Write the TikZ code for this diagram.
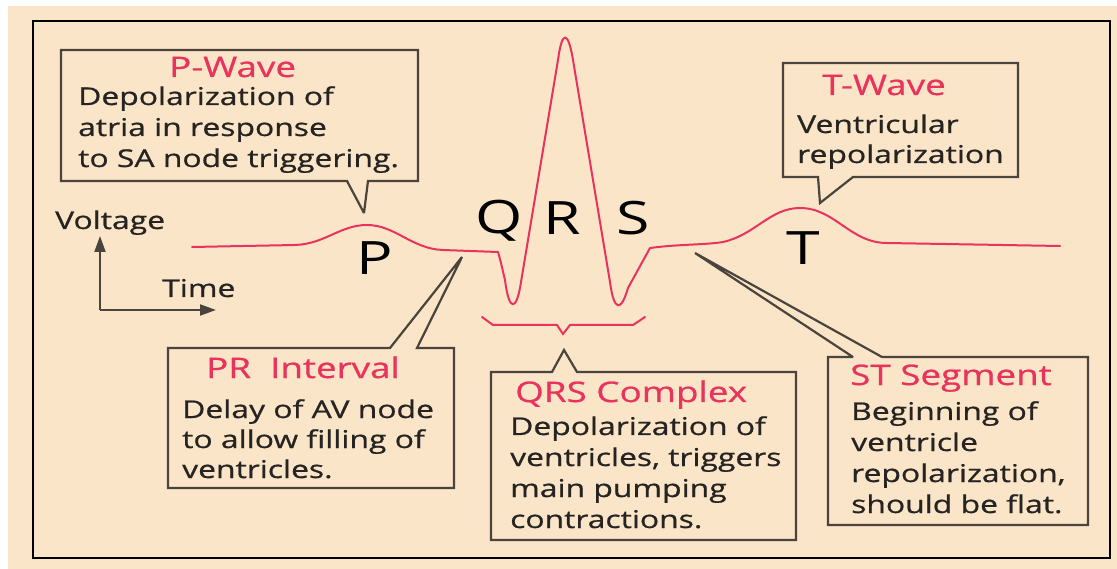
\documentclass[tikz,border=0pt]{standalone}
\usepackage{fontspec}
\setmainfont{Open Sans}[FakeStretch=1.30, FakeBold=0.8]
\newfontfamily\lettersfont{Open Sans}[FakeStretch=1.32]
\usetikzlibrary{arrows.meta}

\definecolor{paper}{HTML}{FAE5C8}
\definecolor{ecgred}{HTML}{E8335C}
\definecolor{inkbox}{HTML}{4A443C}
\definecolor{ink}{HTML}{262422}

\begin{document}
\begin{tikzpicture}[x=1pt,y=-1pt,
  txt/.style={inner sep=0pt, anchor=base west, text=ink, font=\fontsize{24.5}{30}\selectfont},
  ttl/.style={inner sep=0pt, anchor=base west, text=ecgred, font=\fontsize{28.3}{30}\selectfont},
  wavelbl/.style={inner sep=0pt, anchor=base west, text=black, font=\lettersfont\fontsize{46}{50}\selectfont},
  boxarea/.style={draw=none, inner sep=0pt, outer sep=0pt},
  boxline/.style={draw=inkbox, line width=2.2pt, line join=miter, miter limit=3},
  ecg/.style={draw=ecgred, line width=2pt, line join=round, line cap=round},
  axis/.style={draw=inkbox, line width=2pt, -{Triangle[length=16pt,width=11pt]}},
  frameline/.style={draw=black, line width=2pt}]

% page and panel
\useasboundingbox (0,0) rectangle (1117,569);
\fill[white] (0,0) rectangle (1117,569);
\fill[paper] (8,6) rectangle (1117,569);
\draw[frameline] (33,21) rectangle (1110,558);

% ECG trace: baseline and P wave
\draw[ecg] (192,247) -- (295,245)
  .. controls (325,244) and (340,225) .. (367,225)
  .. controls (395,225) and (412,249) .. (443,250)
  -- (498,252)
% QRS complex
  .. controls (501,262) and (503,272) .. (505,280)
  .. controls (509,312) and (516.5,312) .. (521,282)
  -- (558,60)
  .. controls (562,30) and (568,30) .. (573,60)
  -- (610,282)
  .. controls (614,312) and (621,312) .. (628,288)
  -- (650,248)
% ST segment and T wave
  .. controls (680,244) and (705,245) .. (723,242)
  .. controls (755,235) and (770,208) .. (800,208)
  .. controls (835,208) and (850,243) .. (887,243)
  -- (1060,246);

% wave letters
\node[wavelbl] (lP) at (356,275) {P};
\node[wavelbl] (lQ) at (475,234) {Q};
\node[wavelbl] (lR) at (543,235) {R};
\node[wavelbl] (lS) at (616,235) {S};
\node[wavelbl] (lT) at (786,265) {T};

% axes
\coordinate (origin) at (100,310);
\coordinate (vtip) at (100,236);
\coordinate (htip) at (216,310);
\draw[axis] (origin) -- (vtip);
\draw[axis] (origin) -- (htip);
\node[txt] (volt) at (55,229) {Voltage};
\node[txt] (time) at (162,297) {Time};

% QRS brace
\draw[ecg, line join=miter] (482,317) -- (493,325) -- (557,325) -- (563,334) -- (570,325) -- (633,325) -- (645,317);

% callout areas
\node[boxarea, minimum width=357pt, minimum height=131pt] (pbox) at (239.5,115.5) {};
\node[boxarea, minimum width=235pt, minimum height=114pt] (tbox) at (900.5,120) {};
\node[boxarea, minimum width=286pt, minimum height=140pt] (prbox) at (311,418) {};
\node[boxarea, minimum width=305pt, minimum height=168pt] (qbox) at (643.5,456) {};
\node[boxarea, minimum width=260pt, minimum height=168pt] (sbox) at (958,441) {};

% pointer tips
\coordinate (pA) at (347,181);  \coordinate (pTip) at (364,213); \coordinate (pB) at (368,181);
\coordinate (tA) at (818,177);  \coordinate (tTip) at (820,203); \coordinate (tB) at (853,177);
\coordinate (prA) at (390,348); \coordinate (prTip) at (462,257); \coordinate (prB) at (417,348);
\coordinate (qA) at (552,372);  \coordinate (qTip) at (564,350); \coordinate (qB) at (577,372);
\coordinate (sA) at (853,357);  \coordinate (sTip) at (695,253); \coordinate (sB) at (882,357);

% callout outlines
\draw[boxline] (pbox.south west) -- (pbox.north west) -- (pbox.north east) -- (pbox.south east)
  -- (pB) -- (pTip) -- (pA) -- cycle;
\draw[boxline] (tbox.south west) -- (tbox.north west) -- (tbox.north east) -- (tbox.south east)
  -- (tB) -- (tTip) -- (tA) -- cycle;
\draw[boxline] (prbox.north west) -- (prA) -- (prTip) -- (prB) -- (prbox.north east)
  -- (prbox.south east) -- (prbox.south west) -- cycle;
\draw[boxline] (qbox.north west) -- (qA) -- (qTip) -- (qB) -- (qbox.north east)
  -- (qbox.south east) -- (qbox.south west) -- cycle;
\draw[boxline] (sbox.north west) -- (sA) -- (sTip) -- (sB) -- (sbox.north east)
  -- (sbox.south east) -- (sbox.south west) -- cycle;

% P-wave text
\node[ttl] (pT) at (169,77) {P-Wave};
\node[txt] (p1) at (78,105) {Depolarization of};
\node[txt] (p2) at (78,136) {atria in response};
\node[txt] (p3) at (78,167) {to SA node triggering.};

% T-wave text
\node[ttl] (tT) at (822,95) {T-Wave};
\node[txt] (t1) at (797,133) {Ventricular};
\node[txt] (t2) at (797,163) {repolarization};

% PR interval text
\node[ttl] (prT) at (206,378) {PR\ \ Interval};
\node[txt] (pr1) at (182,418) {Delay of AV node};
\node[txt] (pr2) at (182,448) {to allow filling of};
\node[txt] (pr3) at (182,478) {ventricles.};

% QRS complex text
\node[ttl] (qT) at (515,402) {QRS Complex};
\node[txt] (q1) at (510,435) {Depolarization of};
\node[txt] (q2) at (510,466) {ventricles, triggers};
\node[txt] (q3) at (510,497) {main pumping};
\node[txt] (q4) at (510,528) {contractions.};

% ST segment text
\node[ttl] (sT) at (850,385) {ST Segment};
\node[txt] (s1) at (851,420) {Beginning of};
\node[txt] (s2) at (851,451) {ventricle};
\node[txt] (s3) at (851,482) {repolarization,};
\node[txt] (s4) at (851,513) {should be flat.};
\end{tikzpicture}
\end{document}
